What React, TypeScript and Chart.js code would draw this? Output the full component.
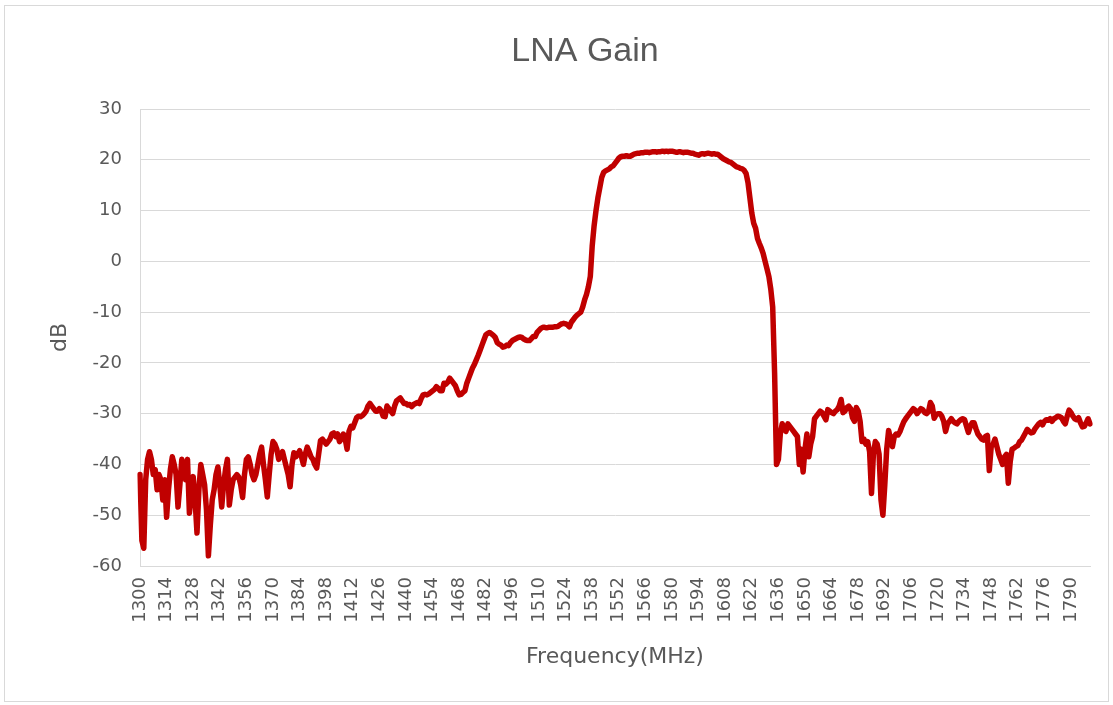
import React, { useEffect, useRef } from "react";
import { Chart, registerables } from "chart.js";

Chart.register(...registerables);

// Frequencies 1300..1800 MHz, 1 MHz step (category labels)
const frequencies: number[] = Array.from({ length: 501 }, (_, i) => 1300 + i);

// Tick labels shown on the x axis
const shownTicks: number[] = [
  1300, 1314, 1328, 1342, 1356, 1370, 1384, 1398, 1412, 1426, 1440, 1454,
  1468, 1482, 1496, 1510, 1524, 1538, 1552, 1566, 1580, 1594, 1608, 1622,
  1636, 1650, 1664, 1678, 1692, 1706, 1720, 1734, 1748, 1762, 1776, 1790,
];

const chartTitle = "LNA Gain";
const xTitle = "Frequency(MHz)";
const yTitle = "dB";

// Gain (dB), 1300-1399 MHz
const gain1300: number[] = [
  -42, -55, -56.5, -43, -39, -37.5, -39, -42, -41, -45,
  -42, -43, -47, -43, -50.4, -45, -41, -38.5, -40, -42,
  -48.4, -44, -39, -41, -43, -39, -49.6, -46, -42.4, -47,
  -53.5, -45, -40, -42, -44, -49, -58, -52, -47, -45,
  -42, -40.5, -44, -48.4, -44, -41, -39, -48, -45, -43,
  -42.5, -42, -42.5, -44, -46.5, -42, -39, -38.5, -40, -42,
  -43, -42, -40, -38, -36.6, -40, -43, -46.4, -42, -38,
  -35.5, -36, -37, -39, -38, -37.5, -39, -40.5, -42, -44.4,
  -40, -37.7, -38.5, -38, -37.3, -38.5, -40, -38, -36.6, -37.5,
  -38.5, -39, -40, -40.7, -38, -35.3, -35, -35.5, -36, -35.5,
];

// Gain (dB), 1400-1499 MHz
const gain1400: number[] = [
  -35, -34, -33.8, -34.5, -34, -35.5, -35, -34, -35, -37,
  -33.5, -32.5, -32.8, -31.8, -30.8, -30.5, -30.6, -30.4, -30, -29.5,
  -28.5, -28, -28.5, -29, -29.5, -29.5, -29, -29.5, -30.5, -30.6,
  -28.5, -29, -29.5, -30, -28.5, -27.5, -27.2, -26.9, -27.5, -28,
  -28, -28.3, -28.2, -28.6, -28.2, -28, -27.8, -28, -27, -26.3,
  -26.2, -26.3, -26.1, -25.8, -25.5, -25.2, -24.7, -25, -25.5, -25.5,
  -24, -24.2, -23.8, -23, -23.5, -24, -24.5, -25.5, -26.3, -26.2,
  -25.8, -25.5, -24, -23, -22, -21, -20.3, -19.4, -18.5, -17.5,
  -16.5, -15.5, -14.5, -14.2, -14, -14.3, -14.6, -15, -16, -16.3,
  -16.5, -16.9, -16.8, -16.5, -16.6, -16, -15.6, -15.4, -15.2, -15,
];

// Gain (dB), 1500-1599 MHz
const gain1500: number[] = [
  -14.9, -15, -15.3, -15.5, -15.6, -15.6, -15.2, -14.8, -14.8, -14,
  -13.6, -13.2, -13, -13, -13.1, -13, -13, -13, -12.9, -12.9,
  -12.8, -12.5, -12.3, -12.2, -12.3, -12.5, -12.9, -12, -11.5, -11,
  -10.6, -10.3, -10, -9, -7.6, -6.5, -5, -3, 3, 7,
  10, 12.5, 14.5, 16.5, 17.5, 17.8, 18, 18.2, 18.6, 18.8,
  19.3, 19.8, 20.3, 20.6, 20.7, 20.7, 20.8, 20.7, 20.7, 20.9,
  21.1, 21.2, 21.3, 21.3, 21.4, 21.4, 21.5, 21.5, 21.4, 21.5,
  21.6, 21.6, 21.5, 21.6, 21.6, 21.7, 21.6, 21.7, 21.6, 21.7,
  21.7, 21.6, 21.5, 21.5, 21.6, 21.5, 21.4, 21.5, 21.5, 21.4,
  21.3, 21.3, 21.1, 21.0, 20.9, 21.1, 21.2, 21.1, 21.2, 21.3,
];

// Gain (dB), 1600-1699 MHz
const gain1600: number[] = [
  21.2, 21.1, 21.2, 21.1, 21.1, 20.8, 20.5, 20.2, 20.0, 19.8,
  19.6, 19.5, 19.2, 18.9, 18.6, 18.5, 18.3, 18.2, 17.9, 17.3,
  15.5, 12.5, 9.5, 7.5, 6.5, 4.5, 3.5, 2.6, 1.5, 0,
  -1.5, -3, -5.5, -9, -22, -40, -39, -34, -32, -33,
  -33.5, -32, -32.5, -33, -33.5, -34, -34.5, -40, -37, -41.5,
  -37, -34, -38.5, -36, -34.5, -31, -30.5, -30, -29.5, -29.8,
  -30.5, -31.2, -29.2, -29.5, -29.8, -30, -29.5, -29.2, -28.5, -27.2,
  -29.8, -29.5, -28.8, -28.5, -29, -30.8, -31.5, -28.8, -29.5, -31.5,
  -35.5, -35, -36, -35.5, -37.5, -45.7, -38, -35.5, -36, -38,
  -47, -50, -44, -37, -33.3, -35, -36.5, -34.5, -34, -34.2,
];

// Gain (dB), 1700-1800 MHz
const gain1700: number[] = [
  -33.5, -32.5, -31.6, -31, -30.5, -30, -29.5, -29, -29.3, -30,
  -29.5, -29, -29.2, -29.8, -30, -29.6, -27.8, -28.5, -30.9, -30.2,
  -30, -30, -30.5, -31.5, -33.5, -32, -31.5, -31, -31.5, -31.8,
  -32, -31.5, -31.2, -31, -31.2, -32.5, -33.7, -32.5, -31.8, -31.8,
  -33, -34, -34.5, -35, -35.2, -34.5, -34.3, -41.2, -36.5, -36,
  -35, -36.5, -38, -39, -40, -38.5, -38, -43.7, -39.5, -37,
  -36.8, -36.5, -36.3, -35.5, -35.2, -34.5, -33.8, -33.1, -33.5, -33.8,
  -33.7, -33, -32.5, -32, -31.7, -32.2, -31.5, -31.2, -31.3, -31,
  -31.5, -31, -30.8, -30.5, -30.6, -30.8, -31.5, -32, -30.5, -29.3,
  -29.8, -30.5, -31, -31.2, -30.8, -31.8, -32.6, -32.5, -31.8, -31,
  -32,
];

const gain: number[] = [...gain1300, ...gain1400, ...gain1500, ...gain1600, ...gain1700];

const TEXT = "#595959";
const GRID = "#d9d9d9";

// Draws the chart title centred where the reference places it
const titlePlugin = {
  id: "placedTitle",
  afterDraw(chart: any) {
    const ctx = chart.ctx;
    ctx.save();
    ctx.fillStyle = TEXT;
    ctx.font = "normal 34px 'Liberation Sans', Arial, sans-serif";
    ctx.textAlign = "center";
    ctx.textBaseline = "middle";
    ctx.fillText(chartTitle, 585, 52);
    ctx.restore();
  },
};

export default function App() {
  const canvasRef = useRef<HTMLCanvasElement | null>(null);

  useEffect(() => {
    if (!canvasRef.current) return;
    const chart = new Chart(canvasRef.current, {
      type: "line",
      data: {
        labels: frequencies.map(String),
        datasets: [
          {
            label: chartTitle,
            data: gain,
            borderColor: "#C00000",
            backgroundColor: "#C00000",
            borderWidth: 5.5,
            pointRadius: 0,
            tension: 0,
            borderJoinStyle: "round",
            borderCapStyle: "round",
          },
        ],
      },
      plugins: [titlePlugin],
      options: {
        responsive: false,
        animation: false,
        layout: { padding: { left: 0, right: 23, top: 109, bottom: 0 } },
        plugins: {
          legend: { display: false },
          tooltip: { enabled: false },
          title: { display: false },
        },
        scales: {
          x: {
            type: "category",
            offset: false,
            grid: { display: false, drawTicks: false },
            border: { display: true, color: GRID, width: 1 },
            afterFit: (scale: any) => {
              scale.height = 139;
            },
            ticks: {
              autoSkip: false,
              minRotation: 90,
              maxRotation: 90,
              padding: 11,
              color: TEXT,
              font: { family: "'DejaVu Sans', sans-serif", size: 18 },
              callback: (_v: any, index: number) =>
                shownTicks.includes(frequencies[index]) ? String(frequencies[index]) : null,
            },
            title: {
              display: true,
              text: xTitle,
              color: TEXT,
              font: { family: "'DejaVu Sans', sans-serif", size: 22 },
              padding: { top: 0, bottom: 35 },
            },
          },
          y: {
            min: -60,
            max: 30,
            grid: { color: GRID, lineWidth: 1, drawTicks: false },
            border: { display: true, color: GRID, width: 1 },
            afterFit: (scale: any) => {
              scale.width = 140;
            },
            ticks: {
              stepSize: 10,
              padding: 18,
              color: TEXT,
              font: { family: "'DejaVu Sans', sans-serif", size: 18 },
            },
            title: {
              display: true,
              text: yTitle,
              color: TEXT,
              font: { family: "'DejaVu Sans', sans-serif", size: 22 },
              padding: { top: 47, bottom: 0 },
            },
          },
        },
      },
    });
    return () => chart.destroy();
  }, []);

  return (
    <div style={{ position: "absolute", left: 0, top: 0, width: 1113, height: 705, background: "#fff" }}>
      <div
        style={{
          position: "absolute",
          left: 4,
          top: 5,
          width: 1105,
          height: 697,
          border: "1px solid #d9d9d9",
          boxSizing: "border-box",
        }}
      />
      <canvas
        ref={canvasRef}
        width={1113}
        height={705}
        style={{ position: "absolute", left: 0, top: 0, width: 1113, height: 705 }}
      />
    </div>
  );
}
